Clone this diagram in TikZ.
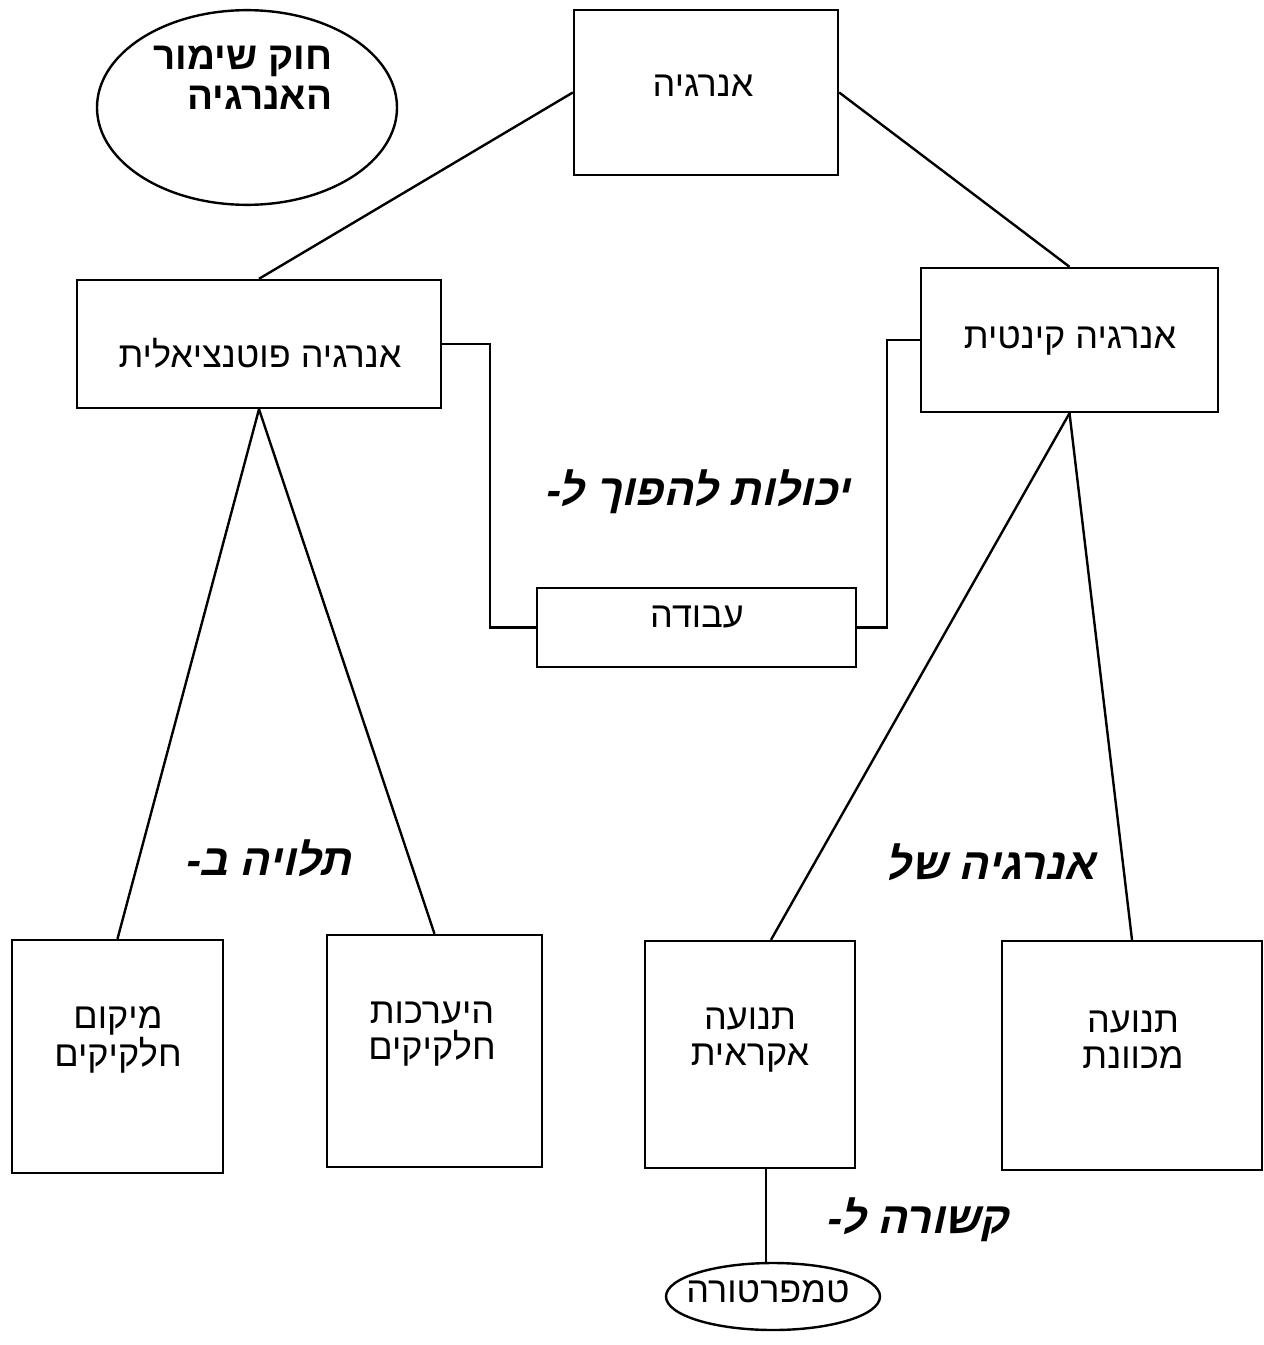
\documentclass[tikz,border=0pt]{standalone}
\usepackage{fontspec}
\usetikzlibrary{calc,shapes.geometric}
\TeXXeTstate=1
\newfontfamily\heb[Script=Hebrew]{Liberation Sans}
\newfontfamily\hebcur[Script=Hebrew,FakeSlant=0.22]{Liberation Sans}
\begin{document}
\begin{tikzpicture}[x=0.75pt,y=-0.75pt,line width=1.8pt,
  box/.style={draw,rectangle,inner sep=0pt},
  oval/.style={draw,ellipse,inner sep=0pt},
  txt/.style={font=\heb\fontsize{27}{27}\selectfont,align=center,inner sep=0pt},
  cur/.style={font=\hebcur\bfseries\fontsize{33}{38}\selectfont,inner sep=0pt},
  conn/.style={line width=1.8pt}]
\useasboundingbox (0,0) rectangle (1263,1345);
% ellipse top-left
\node[oval,minimum width=225pt,minimum height=146pt] (law) at (247,107.5) {};
\node[font=\heb\bfseries\fontsize{29}{30}\selectfont,align=right,inner sep=0pt] (lawT) at (243,78) {\beginR חוק שימור\endR\\\beginR האנרגיה\endR};
% boxes
\node[box,minimum width=198pt,minimum height=123.75pt] (top) at (706,92.5) {};
\node[txt] (topT) at (703,86) {\beginR אנרגיה\endR};
\node[box,minimum width=273pt,minimum height=96pt] (pot) at (259,344) {};
\node[txt] (potT) at (260,353) {\beginR אנרגיה פוטנציאלית\endR};
\node[box,minimum width=222.75pt,minimum height=108pt] (kin) at (1069.5,340) {};
\node[txt] (kinT) at (1070,341) {\beginR אנרגיה קינטית\endR};
\node[box,minimum width=239.25pt,minimum height=59.25pt] (work) at (696.5,627.5) {};
\node[txt] (workT) at (697,617) {\beginR עבודה\endR};
\node[box,minimum width=158.25pt,minimum height=174.75pt] (mik) at (117.5,1056.5) {};
\node[txt] (mikT) at (118,1040) {\beginR מיקום\endR\\\beginR חלקיקים\endR};
\node[box,minimum width=161.25pt,minimum height=174pt] (hier) at (434.5,1051) {};
\node[txt] (hierT) at (432,1034) {\beginR היערכות\endR\\\beginR חלקיקים\endR};
\node[box,minimum width=157.5pt,minimum height=170.25pt] (akr) at (750,1054.5) {};
\node[txt] (akrT) at (750,1040) {\beginR תנועה\endR\\\beginR אקראית\endR};
\node[box,minimum width=195pt,minimum height=171.75pt] (mech) at (1132,1055.5) {};
\node[txt] (mechT) at (1133,1040) {\beginR תנועה\endR\\\beginR מכוונת\endR};
\node[oval,minimum width=160.5pt,minimum height=50.25pt] (temp) at (773,1296.5) {};
\node[txt] (tempT) at (768,1292) {\beginR טמפרטורה\endR};
% cursive labels
\node[cur] (l1) at (697,492) {\beginR יכולות להפוך ל-\endR};
\node[cur] (l2) at (268,858) {\beginR תלויה ב-\endR};
\node[cur] (l3) at (990,862) {\beginR אנרגיה של\endR};
\node[cur] (l4) at (917,1220) {\beginR קשורה ל-\endR};
% connectors
\draw[conn] (top.west) -- (pot.north);
\draw[conn] (top.east) -- (kin.north);
\draw[conn] (pot.east) -- ++(48,0) |- (work.west);
\draw[conn] (kin.west) -- ++(-33,0) |- (work.east);
\draw[conn] (pot.south) -- (mik.north);
\draw[conn] (pot.south) -- (hier.north);
\draw[conn] (kin.south) -- ($(akr.north)+(21,0)$);
\draw[conn] (kin.south) -- (mech.north);
\draw[conn] ($(akr.south)+(16,0)$) coordinate (a1) -- (a1 |- temp.north);
\end{tikzpicture}
\end{document}
